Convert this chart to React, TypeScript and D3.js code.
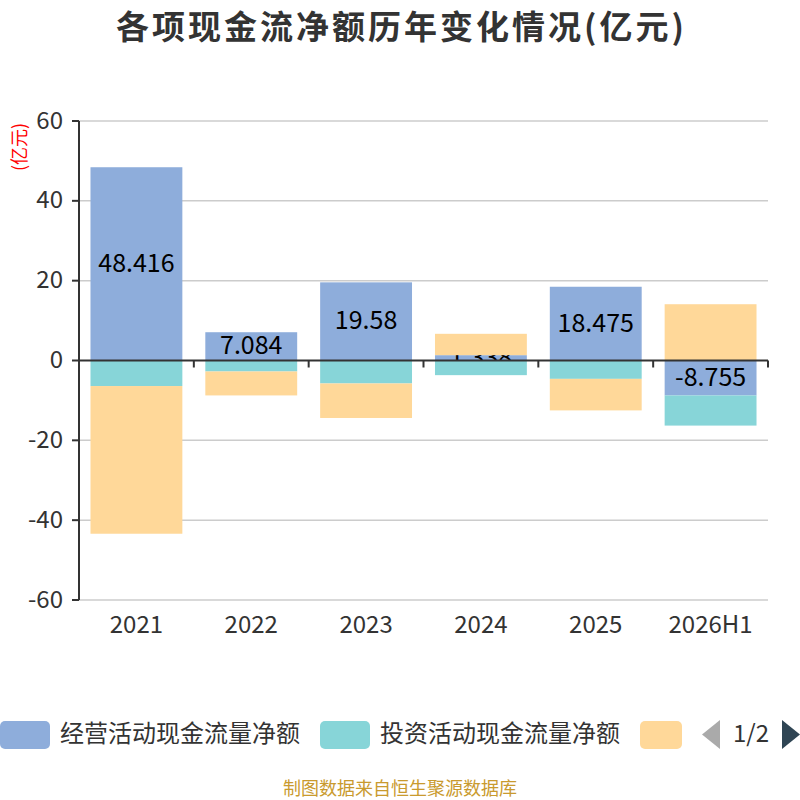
import React, { useEffect, useRef } from 'react';
import * as d3 from 'd3';

const years = ['2021', '2022', '2023', '2024', '2025', '2026H1'];
const operating = [48.416, 7.084, 19.58, 1.338, 18.475, -8.755];
const investing = [-6.4, -2.75, -5.75, -3.67, -4.6, -7.55];
const financing = [-37.0, -6.0, -8.65, 5.35, -7.9, 14.1];
const seriesNames = ['经营活动现金流量净额', '投资活动现金流量净额', '筹资活动现金流量净额'];
const seriesColors = ['#8eaddb', '#87d5d8', '#ffd899'];
const yTicks = [60, 40, 20, 0, -20, -40, -60];

const FONT = '"Noto Sans CJK SC", "Noto Sans", sans-serif';
// Noto CJK sits a little low with a central baseline, nudge texts up
const NUDGE = -3;

export default function App() {
  const svgRef = useRef<SVGSVGElement>(null);

  useEffect(() => {
    if (!svgRef.current) return;
    const svg = d3.select(svgRef.current);
    svg.selectAll('*').remove();

    const left = 79;
    const right = 768;
    const top = 121;
    const bottom = 600;

    const x = d3.scaleBand<string>().domain(years).range([left, right]).paddingInner(0.2).paddingOuter(0.1);
    const y = d3.scaleLinear().domain([-60, 60]).range([bottom, top]);

    // title
    svg.append('text')
      .attr('x', 401.5)
      .attr('y', 39)
      .attr('text-anchor', 'middle')
      .style('font-family', FONT)
      .style('font-size', '33px')
      .style('font-weight', 'bold')
      .style('letter-spacing', '3px')
      .style('fill', '#333')
      .text('各项现金流净额历年变化情况(亿元)');

    // grid lines
    svg.append('g')
      .selectAll('line')
      .data(yTicks.filter((t) => t !== 0))
      .enter()
      .append('line')
      .attr('x1', left)
      .attr('x2', right)
      .attr('y1', (d) => y(d))
      .attr('y2', (d) => y(d))
      .attr('stroke', '#ccc')
      .attr('stroke-width', 1.5);

    // stacked bars, drawn series by series so later bars cover earlier labels
    const rows = years.map((yr, i) => ({ year: yr, op: operating[i], inv: investing[i], fin: financing[i] }));
    const stacked = d3.stack<any>().keys(['op', 'inv', 'fin']).offset(d3.stackOffsetDiverging)(rows);

    stacked.forEach((layer, si) => {
      svg.append('g')
        .selectAll('rect')
        .data(layer)
        .enter()
        .append('rect')
        .attr('x', (d) => x(d.data.year)!)
        .attr('width', x.bandwidth())
        .attr('y', (d) => y(Math.max(d[0], d[1])))
        .attr('height', (d) => Math.abs(y(d[0]) - y(d[1])))
        .attr('fill', seriesColors[si]);

      if (si === 0) {
        svg.append('g')
          .selectAll('text')
          .data(layer)
          .enter()
          .append('text')
          .attr('x', (d) => x(d.data.year)! + x.bandwidth() / 2)
          .attr('y', (d) => y((d[0] + d[1]) / 2) + NUDGE)
          .attr('text-anchor', 'middle')
          .attr('dominant-baseline', 'central')
          .style('font-family', FONT)
          .style('font-size', '25px')
          .style('fill', '#000')
          .text((d) => String(d.data.op));
      }
    });

    // y axis
    const yAxis = svg.append('g');
    yAxis.append('line')
      .attr('x1', left).attr('x2', left)
      .attr('y1', top).attr('y2', bottom)
      .attr('stroke', '#333').attr('stroke-width', 2);
    yTicks.forEach((t) => {
      yAxis.append('line')
        .attr('x1', left - 7).attr('x2', left)
        .attr('y1', y(t)).attr('y2', y(t))
        .attr('stroke', '#333').attr('stroke-width', 2);
      yAxis.append('text')
        .attr('x', 63)
        .attr('y', y(t) + NUDGE)
        .attr('text-anchor', 'end')
        .attr('dominant-baseline', 'central')
        .style('font-family', FONT)
        .style('font-size', '24px')
        .style('fill', '#333')
        .text(String(t));
    });
    svg.append('text')
      .attr('transform', `translate(18,147) rotate(-90)`)
      .attr('text-anchor', 'middle')
      .attr('dominant-baseline', 'central')
      .style('font-family', FONT)
      .style('font-size', '18px')
      .style('fill', '#ff0000')
      .text('(亿元)');

    // x axis at zero
    const xAxis = svg.append('g');
    xAxis.append('line')
      .attr('x1', left).attr('x2', right)
      .attr('y1', y(0)).attr('y2', y(0))
      .attr('stroke', '#333').attr('stroke-width', 2);
    const boundaries = years.map((yr) => x(yr)! - (x.step() - x.bandwidth()) / 2).concat([right]);
    boundaries.forEach((b) => {
      xAxis.append('line')
        .attr('x1', b).attr('x2', b)
        .attr('y1', y(0)).attr('y2', y(0) + 7)
        .attr('stroke', '#333').attr('stroke-width', 2);
    });
    years.forEach((yr) => {
      xAxis.append('text')
        .attr('x', x(yr)! + x.bandwidth() / 2)
        .attr('y', 625 + NUDGE)
        .attr('text-anchor', 'middle')
        .attr('dominant-baseline', 'central')
        .style('font-family', FONT)
        .style('font-size', '24px')
        .style('fill', '#333')
        .text(yr);
    });

    // legend (page 1 of 2)
    const legend = svg.append('g');
    const legendX = [0, 320, 640];
    seriesNames.forEach((name, i) => {
      const w = i === 2 ? 42 : 50;
      legend.append('rect')
        .attr('x', legendX[i]).attr('y', 721)
        .attr('width', w).attr('height', 28)
        .attr('rx', 5)
        .attr('fill', seriesColors[i]);
      if (i < 2) {
        legend.append('text')
          .attr('x', legendX[i] + 60)
          .attr('y', 734 + NUDGE)
          .attr('dominant-baseline', 'central')
          .style('font-family', FONT)
          .style('font-size', '24px')
          .style('fill', '#333')
          .text(name);
      }
    });
    legend.append('path')
      .attr('d', 'M720,720 L720,749 L702,734.5 Z')
      .attr('fill', '#aaa');
    legend.append('text')
      .attr('x', 751)
      .attr('y', 734 + NUDGE)
      .attr('text-anchor', 'middle')
      .attr('dominant-baseline', 'central')
      .style('font-family', FONT)
      .style('font-size', '24px')
      .style('fill', '#333')
      .text('1/2');
    legend.append('path')
      .attr('d', 'M782,720 L782,749 L800,734.5 Z')
      .attr('fill', '#2f4554');

    // footer
    svg.append('text')
      .attr('x', 400)
      .attr('y', 787)
      .attr('text-anchor', 'middle')
      .attr('dominant-baseline', 'central')
      .style('font-family', FONT)
      .style('font-size', '18px')
      .style('fill', '#c99a2e')
      .text('制图数据来自恒生聚源数据库');
  }, []);

  return (
    <div style={{ position: 'fixed', left: 0, top: 0, width: 800, height: 800, background: '#fff' }}>
      <svg ref={svgRef} width={800} height={800} style={{ display: 'block' }} />
    </div>
  );
}
